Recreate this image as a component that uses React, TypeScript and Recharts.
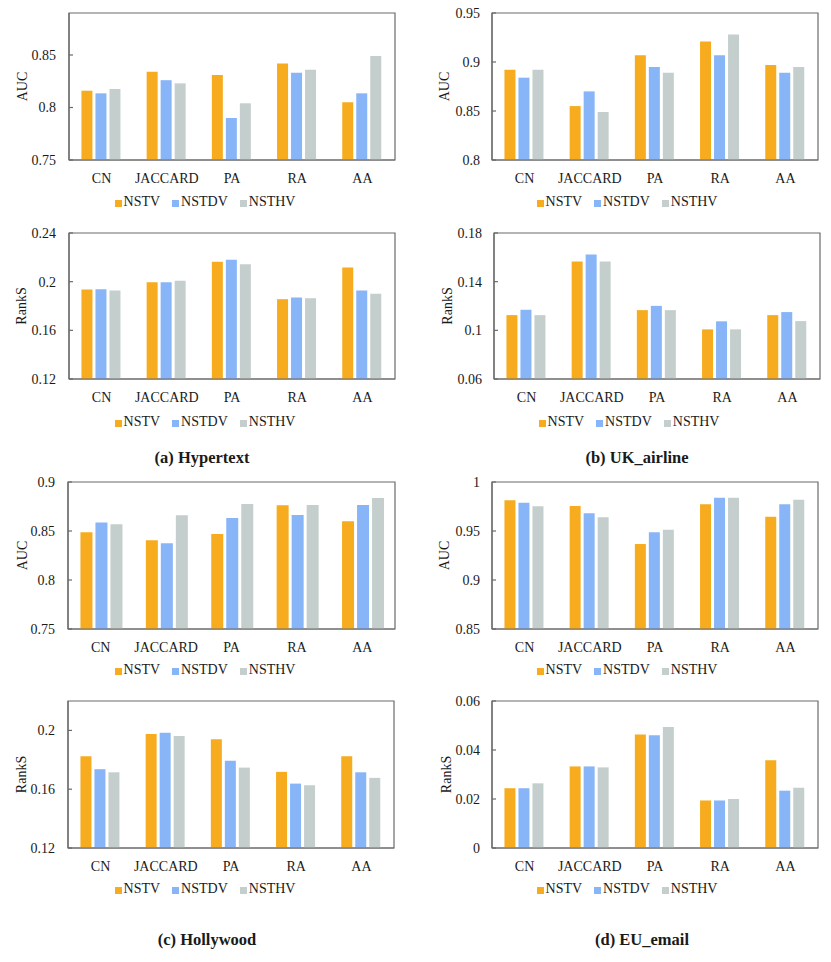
import React from 'react';
import { BarChart, Bar, XAxis, YAxis, Label, ReferenceArea } from 'recharts';

const categories = ['CN', 'JACCARD', 'PA', 'RA', 'AA'];
const seriesNames = ['NSTV', 'NSTDV', 'NSTHV'];
const seriesColors = ['#F6AC1E', '#87B5F7', '#C4CFCD'];

// (a) Hypertext
const hypertextAUC_NSTV = [0.816, 0.834, 0.831, 0.842, 0.805];
const hypertextAUC_NSTDV = [0.8135, 0.826, 0.79, 0.833, 0.8135];
const hypertextAUC_NSTHV = [0.8176, 0.823, 0.804, 0.836, 0.849];
const hypertextRankS_NSTV = [0.1935, 0.1995, 0.2163, 0.1856, 0.2117];
const hypertextRankS_NSTDV = [0.1937, 0.1995, 0.218, 0.187, 0.1927];
const hypertextRankS_NSTHV = [0.1927, 0.2008, 0.2144, 0.1864, 0.19];

// (b) UK_airline
const ukAUC_NSTV = [0.892, 0.855, 0.907, 0.921, 0.897];
const ukAUC_NSTDV = [0.884, 0.87, 0.895, 0.907, 0.889];
const ukAUC_NSTHV = [0.892, 0.849, 0.889, 0.928, 0.895];
const ukRankS_NSTV = [0.1125, 0.1566, 0.1166, 0.1008, 0.1125];
const ukRankS_NSTDV = [0.1169, 0.1623, 0.1201, 0.1074, 0.115];
const ukRankS_NSTHV = [0.1125, 0.1566, 0.1166, 0.1008, 0.1076];

// (c) Hollywood
const hollyAUC_NSTV = [0.8486, 0.8405, 0.8469, 0.8762, 0.8599];
const hollyAUC_NSTDV = [0.8588, 0.8374, 0.8633, 0.8663, 0.8765];
const hollyAUC_NSTHV = [0.8568, 0.866, 0.8776, 0.8765, 0.8837];
const hollyRankS_NSTV = [0.1824, 0.1975, 0.1939, 0.1718, 0.1824];
const hollyRankS_NSTDV = [0.1736, 0.1984, 0.1794, 0.1638, 0.1715];
const hollyRankS_NSTHV = [0.1715, 0.1962, 0.1747, 0.1627, 0.1677];

// (d) EU_email
const euAUC_NSTV = [0.9813, 0.9755, 0.9367, 0.9772, 0.9646];
const euAUC_NSTDV = [0.9789, 0.968, 0.9486, 0.984, 0.9772];
const euAUC_NSTHV = [0.9752, 0.964, 0.9514, 0.984, 0.982];
const euRankS_NSTV = [0.0244, 0.0333, 0.0463, 0.0194, 0.0358];
const euRankS_NSTDV = [0.0244, 0.0333, 0.046, 0.0194, 0.0234];
const euRankS_NSTHV = [0.0264, 0.0329, 0.0494, 0.02, 0.0246];

const FONT = '"Liberation Serif", "Times New Roman", serif';
const TEXT = '#1a1a1a';
const AXIS = '#6a6a6a';

function build(a: number[], b: number[], c: number[]) {
  return categories.map((cat, i) => ({ cat, NSTV: a[i], NSTDV: b[i], NSTHV: c[i] }));
}

type PanelProps = {
  colX: number;
  colW: number;
  plotL: number;
  plotR: number;
  plotT: number;
  plotB: number;
  data: any[];
  domain: [number, number];
  ticks: number[];
  ylabel: string;
  ylabelX: number;
  tickMargin: number;
  legendCx: number;
  legendCy: number;
};

function Panel(p: PanelProps) {
  const top = p.plotT - 10;
  const height = p.plotB - top + 30;
  const yAxisW = p.plotL - p.colX;
  const rightM = p.colX + p.colW - p.plotR;
  const labelDx = p.ylabelX - (p.colX + yAxisW / 2);
  return (
    <>
      <div style={{ position: 'absolute', left: p.colX, top }}>
        <BarChart
          width={p.colW}
          height={height}
          data={p.data}
          margin={{ top: 10, right: rightM, left: 0, bottom: 0 }}
          barCategoryGap={12.45}
          barGap={3}
          style={{ fontFamily: FONT }}
        >
          <XAxis
            dataKey="cat"
            height={30}
            tickLine={false}
            tickSize={0}
            tickMargin={13}
            axisLine={{ stroke: AXIS, strokeWidth: 1.2 }}
            tick={{ fontSize: 14, fill: TEXT, fontFamily: FONT }}
            interval={0}
          />
          <YAxis
            width={yAxisW}
            domain={p.domain}
            ticks={p.ticks}
            allowDataOverflow
            interval={0}
            tickSize={-4}
            tickMargin={p.tickMargin}
            tickLine={{ stroke: AXIS, strokeWidth: 1.2 }}
            axisLine={{ stroke: AXIS, strokeWidth: 1.2 }}
            tick={{ fontSize: 14, fill: TEXT, fontFamily: FONT }}
            tickFormatter={(v: number) => String(v)}
          >
            <Label
              value={p.ylabel}
              angle={-90}
              position="center"
              dx={labelDx}
              style={{ fontSize: 14, fill: TEXT, fontFamily: FONT }}
            />
          </YAxis>
          {seriesNames.map((s, i) => (
            <Bar key={s} dataKey={s} fill={seriesColors[i]} isAnimationActive={false} />
          ))}
          <ReferenceArea
            y1={p.domain[0]}
            y2={p.domain[1]}
            fill="none"
            fillOpacity={0}
            stroke={AXIS}
            strokeWidth={1.2}
            ifOverflow="visible"
          />
        </BarChart>
      </div>
      <div
        style={{
          position: 'absolute',
          left: p.legendCx - 150,
          top: p.legendCy - 10,
          width: 300,
          height: 20,
          display: 'flex',
          justifyContent: 'center',
          alignItems: 'center',
          gap: 12,
          fontFamily: FONT,
          fontSize: 14,
          color: TEXT,
        }}
      >
        {seriesNames.map((s, i) => (
          <div key={s} style={{ display: 'flex', alignItems: 'center' }}>
            <span
              style={{
                display: 'inline-block',
                width: 7,
                height: 7,
                background: seriesColors[i],
                marginRight: 2,
                marginTop: 3,
              }}
            />
            <span>{s}</span>
          </div>
        ))}
      </div>
    </>
  );
}

function Caption({ cx, cy, text }: { cx: number; cy: number; text: string }) {
  return (
    <div
      style={{
        position: 'absolute',
        left: cx - 120,
        top: cy - 11,
        width: 240,
        height: 22,
        lineHeight: '22px',
        textAlign: 'center',
        fontFamily: FONT,
        fontWeight: 'bold',
        fontSize: 16.5,
        color: TEXT,
      }}
    >
      {text}
    </div>
  );
}

export default function App() {
  return (
    <div style={{ position: 'absolute', left: 0, top: 0, width: 831, height: 962, background: '#fff' }}>
      <Panel colX={0} colW={415} plotL={69} plotR={395} plotT={13} plotB={160}
        data={build(hypertextAUC_NSTV, hypertextAUC_NSTDV, hypertextAUC_NSTHV)}
        domain={[0.75, 0.89]} ticks={[0.75, 0.8, 0.85]} ylabel="AUC" ylabelX={22} tickMargin={17}
        legendCx={205} legendCy={202} />
      <Panel colX={415} colW={416} plotL={492} plotR={818} plotT={13} plotB={160}
        data={build(ukAUC_NSTV, ukAUC_NSTDV, ukAUC_NSTHV)}
        domain={[0.8, 0.95]} ticks={[0.8, 0.85, 0.9, 0.95]} ylabel="AUC" ylabelX={444} tickMargin={16}
        legendCx={627} legendCy={202} />
      <Panel colX={0} colW={415} plotL={69} plotR={395} plotT={233} plotB={379}
        data={build(hypertextRankS_NSTV, hypertextRankS_NSTDV, hypertextRankS_NSTHV)}
        domain={[0.12, 0.24]} ticks={[0.12, 0.16, 0.2, 0.24]} ylabel="RankS" ylabelX={21} tickMargin={17}
        legendCx={205} legendCy={422} />
      <Panel colX={415} colW={416} plotL={494} plotR={820} plotT={233} plotB={379}
        data={build(ukRankS_NSTV, ukRankS_NSTDV, ukRankS_NSTHV)}
        domain={[0.06, 0.18]} ticks={[0.06, 0.1, 0.14, 0.18]} ylabel="RankS" ylabelX={447} tickMargin={16}
        legendCx={629} legendCy={422} />
      <Caption cx={202} cy={458} text="(a) Hypertext" />
      <Caption cx={637} cy={458} text="(b) UK_airline" />

      <Panel colX={0} colW={415} plotL={68} plotR={395} plotT={482} plotB={629}
        data={build(hollyAUC_NSTV, hollyAUC_NSTDV, hollyAUC_NSTHV)}
        domain={[0.75, 0.9]} ticks={[0.75, 0.8, 0.85, 0.9]} ylabel="AUC" ylabelX={22} tickMargin={17}
        legendCx={205} legendCy={670} />
      <Panel colX={415} colW={416} plotL={492} plotR={818} plotT={482} plotB={629}
        data={build(euAUC_NSTV, euAUC_NSTDV, euAUC_NSTHV)}
        domain={[0.85, 1]} ticks={[0.85, 0.9, 0.95, 1]} ylabel="AUC" ylabelX={444} tickMargin={16}
        legendCx={627} legendCy={670} />
      <Panel colX={0} colW={415} plotL={68} plotR={394} plotT={701} plotB={848}
        data={build(hollyRankS_NSTV, hollyRankS_NSTDV, hollyRankS_NSTHV)}
        domain={[0.12, 0.22]} ticks={[0.12, 0.16, 0.2]} ylabel="RankS" ylabelX={21} tickMargin={17}
        legendCx={205} legendCy={889} />
      <Panel colX={415} colW={416} plotL={492} plotR={818} plotT={701} plotB={848}
        data={build(euRankS_NSTV, euRankS_NSTDV, euRankS_NSTHV)}
        domain={[0, 0.06]} ticks={[0, 0.02, 0.04, 0.06]} ylabel="RankS" ylabelX={446} tickMargin={16}
        legendCx={627} legendCy={889} />
      <Caption cx={207} cy={940} text="(c) Hollywood" />
      <Caption cx={642} cy={940} text="(d) EU_email" />
    </div>
  );
}
